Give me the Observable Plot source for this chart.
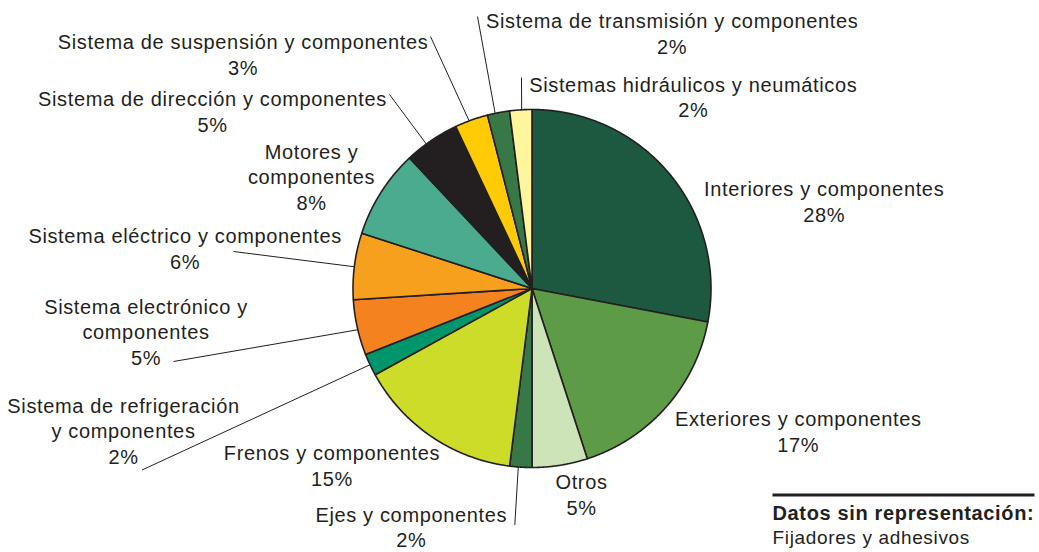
<!DOCTYPE html>
<html>
<head>
<meta charset="utf-8">
<script src="https://cdn.jsdelivr.net/npm/d3@7"></script>
<script src="https://cdn.jsdelivr.net/npm/@observablehq/plot@0.6"></script>
<style>
  html, body { margin: 0; padding: 0; background: #ffffff; }
  #chart svg { display: block; }
  #chart text { letter-spacing: 0.65px; }
</style>
</head>
<body>
<div id="chart"></div>
<script>
// ---------- DATA ----------
const categories = [
  "Interiores y componentes",
  "Exteriores y componentes",
  "Otros",
  "Ejes y componentes",
  "Frenos y componentes",
  "Sistema de refrigeración y componentes",
  "Sistema electrónico y componentes",
  "Sistema eléctrico y componentes",
  "Motores y componentes",
  "Sistema de dirección y componentes",
  "Sistema de suspensión y componentes",
  "Sistema de transmisión y componentes",
  "Sistemas hidráulicos y neumáticos"
];
const values = [28, 17, 5, 2, 15, 2, 5, 6, 8, 5, 3, 2, 2];
const labelLines = [
  "Interiores y componentes",
  "Exteriores y componentes",
  "Otros",
  "Ejes y componentes",
  "Frenos y componentes",
  "Sistema de refrigeración\ny componentes",
  "Sistema electrónico y\ncomponentes",
  "Sistema eléctrico y componentes",
  "Motores y\ncomponentes",
  "Sistema de dirección y componentes",
  "Sistema de suspensión y componentes",
  "Sistema de transmisión y componentes",
  "Sistemas hidráulicos y neumáticos"
];
const colors = [
  "#1d5941", "#5e9b46", "#cde4b8", "#377846", "#cddc29", "#00966b", "#f4821f",
  "#f7a01d", "#4aab8f", "#231f20", "#ffcb05", "#377846", "#fff59d"
];
const noteTitle = "Datos sin representación:";
const noteText = "Fijadores y adhesivos";

// ---------- LAYOUT ----------
const W = 1039, H = 552;
const pie = {cx: 531.5, cy: 288, r: 179};
const ink = "#231f20";
const font = "'Liberation Sans', Arial, Helvetica, sans-serif";
// label anchor: [center x, baseline of last line]
const labelPos = [
  [823.7, 221], [797.8, 451], [581, 514.3], [410.8, 546.7], [331.5, 485],
  [123, 463.3], [145.5, 364], [184.7, 268.3], [311, 209], [212, 131],
  [242.6, 74], [671.7, 53.3], [692.8, 116.7]
];
// leader line start (near the label) and where along the slice it touches the rim
const leaderFrom = [
  null, null, null, [514.3, 524.5], null, [141.5, 469.5], [173, 361],
  [233, 251], null, [389, 94], [430, 36], [477, 16], [521, 77]
];
const leaderAt = [0.5, 0.5, 0.5, 0.61, 0.5, 0.5, 0.46, 0.49, 0.5, 0.39, 0.43, 0.35, 0.54];
const note = {x: 772, x2: 1034, ruleY: 494.5, y1: 519.3, y2: 543.3};

// ---------- BUILD ----------
const total = d3.sum(values);
const cum = d3.cumsum(values);
const slices = [];
const leaders = [];
const labels = [];
categories.forEach((name, i) => {
  const start = (cum[i] - values[i]) / total * 2 * Math.PI;
  const end = cum[i] / total * 2 * Math.PI;
  const pts = [{name, x: pie.cx, y: pie.cy}];
  const steps = Math.max(2, Math.ceil((end - start) / (Math.PI / 720)));
  for (let k = 0; k <= steps; k++) {
    const a = start + (end - start) * k / steps;
    pts.push({name, x: pie.cx + pie.r * Math.sin(a), y: pie.cy - pie.r * Math.cos(a)});
  }
  pts.push({name, x: pie.cx, y: pie.cy});
  slices.push(...pts);
  if (leaderFrom[i]) {
    const a = start + (end - start) * leaderAt[i];
    leaders.push({
      x1: leaderFrom[i][0], y1: leaderFrom[i][1],
      x2: pie.cx + pie.r * Math.sin(a), y2: pie.cy - pie.r * Math.cos(a)
    });
  }
  labels.push({x: labelPos[i][0], y: labelPos[i][1], text: `${labelLines[i]}\n${values[i]}%`});
});

const chart = Plot.plot({
  width: W,
  height: H,
  margin: 0,
  x: {domain: [0, W], range: [0, W], axis: null},
  y: {domain: [0, H], range: [0, H], axis: null},
  color: {type: "ordinal", domain: categories, range: colors},
  style: {fontFamily: font, fontSize: "20px", color: ink, background: "#ffffff"},
  marks: [
    Plot.line(slices, {
      x: "x", y: "y", z: "name", fill: "name",
      stroke: ink, strokeWidth: 1.6, strokeLinejoin: "round"
    }),
    Plot.link(leaders, {x1: "x1", y1: "y1", x2: "x2", y2: "y2", stroke: ink, strokeWidth: 1}),
    Plot.text(labels, {
      x: "x", y: "y", text: "text", textAnchor: "middle", lineAnchor: "bottom",
      lineHeight: 1.27, fontSize: 20, fill: ink
    }),
    Plot.link([note], {x1: "x", x2: "x2", y1: "ruleY", y2: "ruleY", stroke: ink, strokeWidth: 3}),
    Plot.text([note], {
      x: "x", y: "y1", text: () => noteTitle, textAnchor: "start", lineAnchor: "bottom",
      fontSize: 20, fontWeight: "bold", fill: ink
    }),
    Plot.text([note], {
      x: "x", y: "y2", text: () => noteText, textAnchor: "start", lineAnchor: "bottom",
      fontSize: 19, fill: ink
    })
  ]
});
document.getElementById("chart").appendChild(chart);
</script>
</body>
</html>
